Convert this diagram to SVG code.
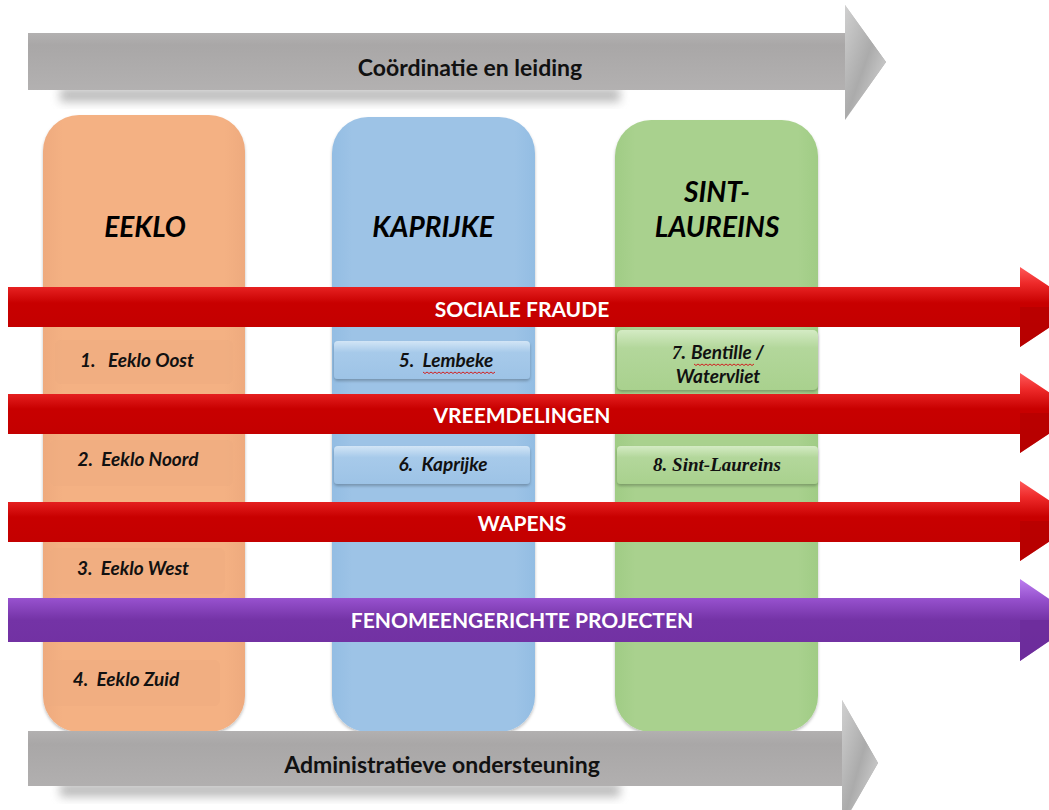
<svg xmlns="http://www.w3.org/2000/svg" width="1049" height="810" viewBox="0 0 1049 810" xml:space="preserve">
<defs>
<linearGradient id="gGrey" x1="0" y1="0" x2="0" y2="1">
<stop offset="0" stop-color="#c8c6c6"/>
<stop offset="0.35" stop-color="#a9a7a7"/>
<stop offset="0.75" stop-color="#b3b1b1"/>
<stop offset="0.9" stop-color="#e6e6e6"/>
<stop offset="1" stop-color="#f7f7f7"/>
</linearGradient>
<linearGradient id="gGreyHead" x1="0" y1="0" x2="1" y2="1">
<stop offset="0" stop-color="#d0d0d0"/>
<stop offset="0.5" stop-color="#ababab"/>
<stop offset="1" stop-color="#e0e0e0"/>
</linearGradient>
<linearGradient id="gRed" x1="0" y1="0" x2="0" y2="1">
<stop offset="0" stop-color="#ff5a5a"/>
<stop offset="0.2" stop-color="#ee2a2a"/>
<stop offset="0.45" stop-color="#c80000"/>
<stop offset="1" stop-color="#c00000"/>
</linearGradient>
<linearGradient id="gPurple" x1="0" y1="0" x2="0" y2="1">
<stop offset="0" stop-color="#bc7ef0"/>
<stop offset="0.25" stop-color="#9550cc"/>
<stop offset="0.5" stop-color="#7433a6"/>
<stop offset="1" stop-color="#7030a0"/>
</linearGradient>
<linearGradient id="gOrange" x1="0" y1="0" x2="1" y2="0">
<stop offset="0" stop-color="#eeaa7e"/>
<stop offset="0.1" stop-color="#f4b183"/>
<stop offset="0.9" stop-color="#f4b183"/>
<stop offset="1" stop-color="#eeaa7e"/>
</linearGradient>
<linearGradient id="gBlue" x1="0" y1="0" x2="1" y2="0">
<stop offset="0" stop-color="#93bde3"/>
<stop offset="0.1" stop-color="#9dc3e6"/>
<stop offset="0.9" stop-color="#9dc3e6"/>
<stop offset="1" stop-color="#93bde3"/>
</linearGradient>
<linearGradient id="gGreen" x1="0" y1="0" x2="1" y2="0">
<stop offset="0" stop-color="#a0cc85"/>
<stop offset="0.1" stop-color="#a9d18e"/>
<stop offset="0.9" stop-color="#a9d18e"/>
<stop offset="1" stop-color="#a0cc85"/>
</linearGradient>
<linearGradient id="gBlueBox" x1="0" y1="0" x2="0" y2="1">
<stop offset="0" stop-color="#d2e5f6"/>
<stop offset="0.3" stop-color="#a7caea"/>
<stop offset="1" stop-color="#9dc3e6"/>
</linearGradient>
<linearGradient id="gGreenBox" x1="0" y1="0" x2="0" y2="1">
<stop offset="0" stop-color="#d4ebc4"/>
<stop offset="0.3" stop-color="#b3d79b"/>
<stop offset="1" stop-color="#a9d18e"/>
</linearGradient>
<filter id="shadow" x="-10%" y="-50%" width="120%" height="200%">
<feGaussianBlur stdDeviation="5"/>
</filter>
<filter id="soft" x="-5%" y="-10%" width="110%" height="130%">
<feDropShadow dx="0" dy="2" stdDeviation="1.5" flood-color="#000" flood-opacity="0.25"/>
</filter>
</defs>
<style>
.col-title{font-family:Lato,"Liberation Sans",sans-serif;font-weight:bold;font-style:italic;font-size:28px;fill:#000;text-anchor:middle}
.band{font-family:Lato,"Liberation Sans",sans-serif;font-weight:bold;font-size:21px;fill:#fff;text-anchor:middle}
.grey{font-family:Lato,"Liberation Sans",sans-serif;font-weight:bold;font-size:23px;fill:#111;text-anchor:middle}
.item{font-family:Lato,"Liberation Sans",sans-serif;font-weight:bold;font-style:italic;font-size:19px;fill:#111;text-anchor:middle;white-space:pre}
.serif{font-family:"Liberation Serif",serif;font-weight:bold;font-style:italic}
.wave{fill:none;stroke:#d02020;stroke-width:1}
</style>
<rect width="1049" height="810" fill="#fff"/>

<!-- columns -->
<g id="col-eeklo">
<rect x="43" y="115" width="202" height="617" rx="36" fill="url(#gOrange)" filter="url(#soft)"/>
<text class="col-title" x="145" y="237">EEKLO</text>
</g>
<g id="col-kaprijke">
<rect x="332" y="117" width="203" height="615" rx="36" fill="url(#gBlue)" filter="url(#soft)"/>
<text class="col-title" x="433" y="237">KAPRIJKE</text>
</g>
<g id="col-sintlaureins">
<rect x="615" y="120" width="203" height="612" rx="36" fill="url(#gGreen)" filter="url(#soft)"/>
<text class="col-title" x="717" y="202">SINT-</text>
<text class="col-title" x="717" y="237">LAUREINS</text>
</g>

<!-- grey arrows -->
<g id="arrow-coordinatie">
<rect x="60" y="88" width="560" height="14" fill="#888" opacity="0.55" filter="url(#shadow)"/>
<polygon points="28,33 845,33 845,5 886,62 845,120 845,90 28,90" fill="url(#gGrey)"/>
<polygon points="845,5 886,62 845,120" fill="url(#gGreyHead)"/>
<text class="grey" x="470" y="76">Coördinatie en leiding</text>
</g>
<g id="arrow-administratief">
<rect x="60" y="783" width="560" height="14" fill="#888" opacity="0.55" filter="url(#shadow)"/>
<polygon points="28,731 842,731 842,700 878,763 842,826 842,786 28,786" fill="url(#gGrey)"/>
<polygon points="842,700 878,763 842,826" fill="url(#gGreyHead)"/>
<text class="grey" x="442" y="773">Administratieve ondersteuning</text>
</g>

<!-- theme bands -->
<g id="band-sociale">
<polygon points="8,287 1020,287 1020,267 1080,307 1020,347 1020,327 8,327" fill="url(#gRed)"/>
<polygon points="1020,307 1080,307 1020,347" fill="#b00000" opacity="0.6"/>
<text class="band" x="522" y="317">SOCIALE FRAUDE</text>
</g>
<g id="band-vreemdelingen">
<polygon points="8,394 1020,394 1020,373 1080,413 1020,453 1020,434 8,434" fill="url(#gRed)"/>
<polygon points="1020,413 1080,413 1020,453" fill="#b00000" opacity="0.6"/>
<text class="band" x="522" y="423">VREEMDELINGEN</text>
</g>
<g id="band-wapens">
<polygon points="8,502 1020,502 1020,481 1080,521 1020,561 1020,542 8,542" fill="url(#gRed)"/>
<polygon points="1020,521 1080,521 1020,561" fill="#b00000" opacity="0.6"/>
<text class="band" x="522" y="531">WAPENS</text>
</g>
<g id="band-fenomeen">
<polygon points="8,598 1020,598 1020,579 1080,620 1020,661 1020,642 8,642" fill="url(#gPurple)"/>
<polygon points="1020,620 1080,620 1020,661" fill="#6a2a98" opacity="0.6"/>
<text class="band" x="522" y="628">FENOMEENGERICHTE PROJECTEN</text>
</g>

<!-- Eeklo items -->
<g id="item-1">
<rect x="55" y="340" width="178" height="44" rx="6" fill="#eeab7f" opacity="0.5"/>
<text class="item" x="137" y="367">1.   Eeklo Oost</text>
</g>
<g id="item-2">
<rect x="50" y="440" width="183" height="46" rx="6" fill="#eeab7f" opacity="0.5"/>
<text class="item" x="138" y="466">2.  Eeklo Noord</text>
</g>
<g id="item-3">
<rect x="50" y="548" width="175" height="46" rx="6" fill="#eeab7f" opacity="0.5"/>
<text class="item" x="133" y="575">3.  Eeklo West</text>
</g>
<g id="item-4">
<rect x="45" y="660" width="175" height="46" rx="6" fill="#eeab7f" opacity="0.5"/>
<text class="item" x="126" y="686">4.  Eeklo Zuid</text>
</g>

<!-- Kaprijke items -->
<g id="item-5">
<rect x="334" y="341" width="196" height="38" rx="4" fill="url(#gBlueBox)" filter="url(#soft)"/>
<text class="item" x="446" y="367">5.  Lembeke</text>
<path class="wave" d="M423,372 l2,1.5 l2,-1.5 l2,1.5 l2,-1.5 l2,1.5 l2,-1.5 l2,1.5 l2,-1.5 l2,1.5 l2,-1.5 l2,1.5 l2,-1.5 l2,1.5 l2,-1.5 l2,1.5 l2,-1.5 l2,1.5 l2,-1.5 l2,1.5 l2,-1.5 l2,1.5 l2,-1.5 l2,1.5 l2,-1.5 l2,1.5 l2,-1.5 l2,1.5 l2,-1.5 l2,1.5 l2,-1.5 l2,1.5 l2,-1.5 l2,1.5 l2,-1.5 l2,1.5 l2,-1.5"/>
</g>
<g id="item-6">
<rect x="334" y="446" width="196" height="38" rx="4" fill="url(#gBlueBox)" filter="url(#soft)"/>
<text class="item" x="443" y="471">6.  Kaprijke</text>
</g>

<!-- Sint-Laureins items -->
<g id="item-7">
<rect x="617" y="330" width="201" height="60" rx="5" fill="url(#gGreenBox)" filter="url(#soft)"/>
<text class="item" x="718" y="359"><tspan class="serif">7. </tspan>Bentille /</text>
<text class="item" x="718" y="383">Watervliet</text>
<path class="wave" d="M694,364 l2,1.5 l2,-1.5 l2,1.5 l2,-1.5 l2,1.5 l2,-1.5 l2,1.5 l2,-1.5 l2,1.5 l2,-1.5 l2,1.5 l2,-1.5 l2,1.5 l2,-1.5 l2,1.5 l2,-1.5 l2,1.5 l2,-1.5 l2,1.5 l2,-1.5 l2,1.5 l2,-1.5 l2,1.5 l2,-1.5 l2,1.5 l2,-1.5 l2,1.5 l2,-1.5 l2,1.5 l2,-1.5"/>
</g>
<g id="item-8">
<rect x="617" y="446" width="201" height="38" rx="4" fill="url(#gGreenBox)" filter="url(#soft)"/>
<text class="item serif" x="717" y="471">8. Sint-Laureins</text>
</g>
</svg>
